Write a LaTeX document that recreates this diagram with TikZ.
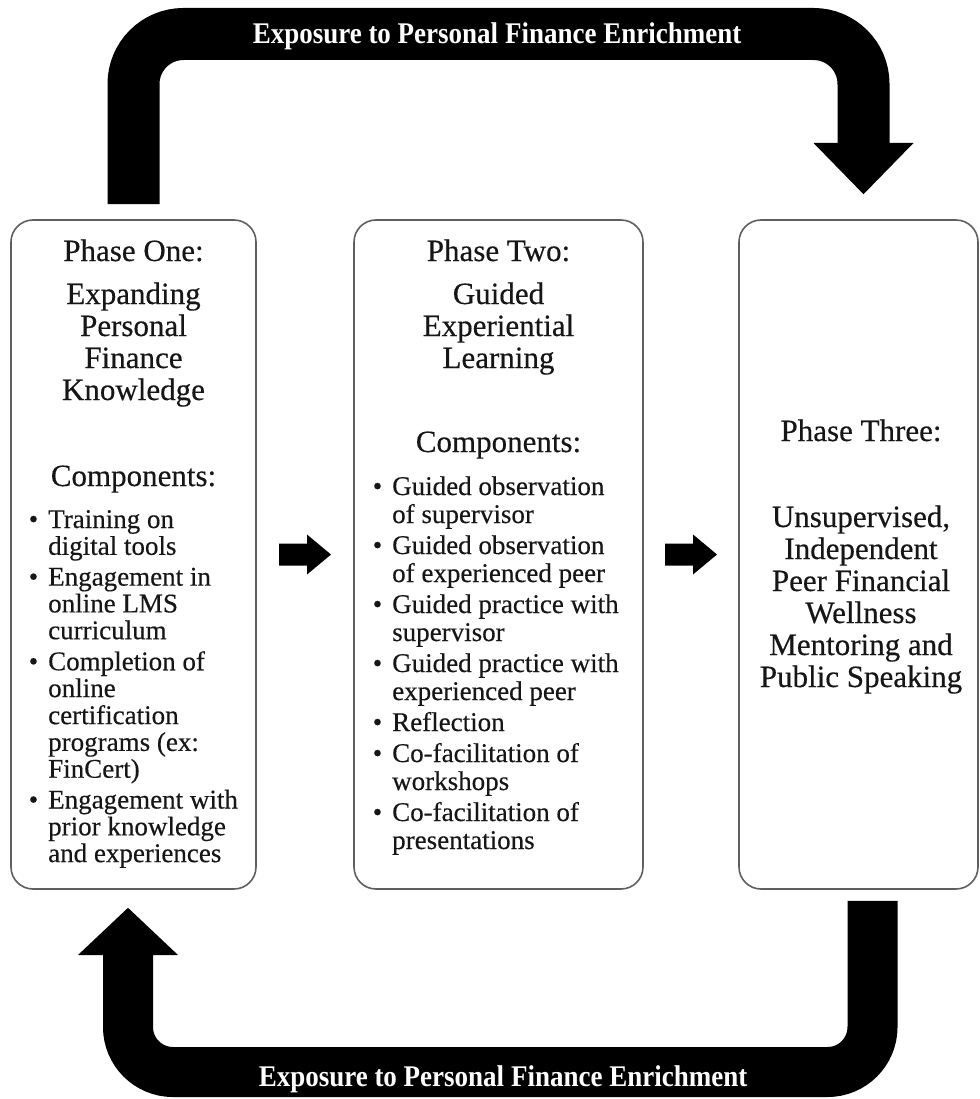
\documentclass[tikz,border=0pt]{standalone}
\usepackage{fontspec}
\setmainfont{Liberation Serif}[FakeBold=0.35]
\newfontfamily\bandfont[FakeStretch=0.9]{Liberation Serif}
\usetikzlibrary{calc}
\definecolor{boxgray}{RGB}{95,95,95}
\definecolor{ink}{RGB}{22,22,22}

% bullet hung to the left of the item text
\newcommand\bul{\llap{\textbullet\hspace{10pt}}}

\begin{document}
\begin{tikzpicture}[x=1pt,y=-1pt,
  phasebox/.style={draw=boxgray, line width=1.6pt, rounded corners=22pt, fill=white, inner sep=0pt},
  heading/.style={anchor=base, inner sep=0pt, text=ink, font=\fontsize{31}{32}\selectfont},
  itemlist/.style={anchor=base west, inner sep=0pt, text=ink},
  bandline/.style={draw=black, line cap=butt},
  bandlabel/.style={anchor=base, inner sep=0pt, text=white, font=\bandfont\bfseries\fontsize{30}{30}\selectfont},
  fatarrow/.pic={\fill[black] (-26,-11) -- (2,-11) -- (2,-20) -- (26,0) -- (2,20) -- (2,11) -- (-26,11) -- cycle;}
]
\useasboundingbox (0,0) rectangle (979,1099);

% the three phase boxes
\node[phasebox, minimum width=245pt, minimum height=669pt] (p1) at (133.5,554.5) {};
\node[phasebox, minimum width=289pt, minimum height=669pt] (p2) at (498.5,554.5) {};
\node[phasebox, minimum width=239pt, minimum height=669pt] (p3) at (858.5,554.5) {};

% phase one
\node[heading] (p1title) at (133.5,261) {Phase One:};
\node[heading] (p1name) at (133.5,304) {\begin{tabular}[t]{@{}c@{}}Expanding\\Personal\\Finance\\Knowledge\end{tabular}};
\node[heading] (p1comp) at (133.5,486) {Components:};
\node[itemlist, font=\fontsize{27}{26.8}\selectfont] (p1list) at (48,528) {\begin{tabular}[t]{@{}l@{}}
\bul Training on\\ digital tools\\[4pt]
\bul Engagement in\\ online LMS\\ curriculum\\[4pt]
\bul Completion of\\ online\\ certification\\ programs (ex:\\ FinCert)\\[4pt]
\bul Engagement with\\ prior knowledge\\ and experiences
\end{tabular}};

% phase two
\node[heading] (p2title) at (498.5,261) {Phase Two:};
\node[heading] (p2name) at (498.5,304) {\begin{tabular}[t]{@{}c@{}}Guided\\Experiential\\Learning\end{tabular}};
\node[heading] (p2comp) at (498.5,452) {Components:};
\node[itemlist, font=\fontsize{27}{28}\selectfont] (p2list) at (392,495) {\begin{tabular}[t]{@{}l@{}}
\bul Guided observation\\ of supervisor\\[3pt]
\bul Guided observation\\ of experienced peer\\[3pt]
\bul Guided practice with\\ supervisor\\[3pt]
\bul Guided practice with\\ experienced peer\\[3pt]
\bul Reflection\\[3pt]
\bul Co-facilitation of\\ workshops\\[3pt]
\bul Co-facilitation of\\ presentations
\end{tabular}};

% phase three
\node[heading] (p3title) at (861,441) {Phase Three:};
\node[heading] (p3name) at (861,527) {\begin{tabular}[t]{@{}c@{}}Unsupervised,\\Independent\\Peer Financial\\Wellness\\Mentoring and\\Public Speaking\end{tabular}};

% block arrows between the phases
\pic at ($(p1.east)!0.5!(p2.west)$) {fatarrow};
\pic at ($(p2.east)!0.5!(p3.west)$) {fatarrow};

% upper loop: phase one over to phase three
\coordinate (topstart) at ($(p1.north)+(0,-15)$);
\coordinate (toptip) at ($(p3.north)+(5,-25)$);
\draw[bandline, line width=52pt, rounded corners=50pt] (topstart) -- (133.5,34) -- (863.5,34) -- (863.5,145);
\fill[black] (813.5,143) -- (913.5,143) -- (toptip) -- cycle;
\node[bandlabel] (toplabel) at (497,44) {Exposure to Personal Finance Enrichment};

% lower loop: phase three back to phase one
\coordinate (botstart) at ($(p3.south)+(14,11)$);
\coordinate (bottip) at ($(p1.south)+(-5.5,18)$);
\draw[bandline, line width=50pt, rounded corners=45pt] (botstart) -- (872.5,1072) -- (128,1072) -- (128,953);
\fill[black] (78,955) -- (178,955) -- (bottip) -- cycle;
\node[bandlabel] (botlabel) at (503,1086) {Exposure to Personal Finance Enrichment};
\end{tikzpicture}
\end{document}
